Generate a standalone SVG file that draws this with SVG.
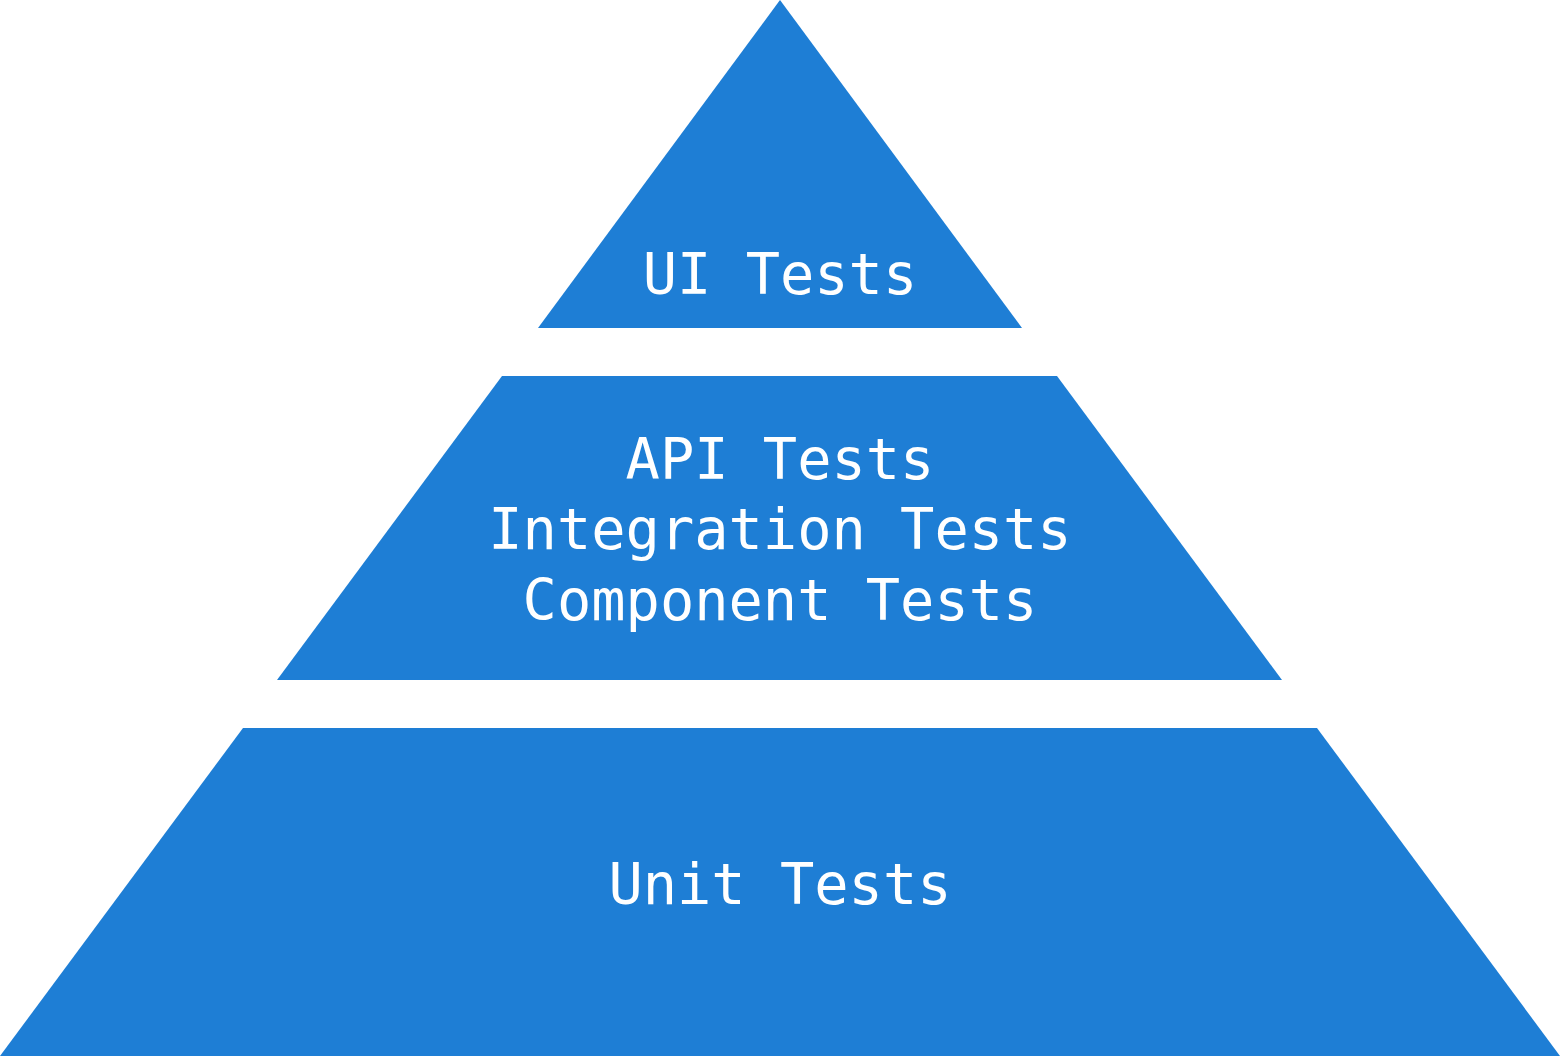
<svg xmlns="http://www.w3.org/2000/svg" width="1560" height="1056" viewBox="0 0 1560 1056">
<style>
.tier{fill:#1E7ED5}
.lbl{fill:#fff;font-family:"DejaVu Sans Mono",monospace;font-size:57px;text-anchor:middle}
</style>
<rect width="1560" height="1056" fill="#fff"/>
<g id="ui"><polygon class="tier" points="780,0 1022,328 538,328"/><text class="lbl" x="780" y="294">UI Tests</text></g>
<g id="middle"><polygon class="tier" points="502,376 1057,376 1282,680 277,680"/>
<text class="lbl" x="780" y="479">API Tests</text>
<text class="lbl" x="780" y="549">Integration Tests</text>
<text class="lbl" x="780" y="620">Component Tests</text></g>
<g id="unit"><polygon class="tier" points="243,728 1317,728 1560,1056 0,1056"/><text class="lbl" x="780" y="904">Unit Tests</text></g>
<g id="connectors"/>
</svg>
